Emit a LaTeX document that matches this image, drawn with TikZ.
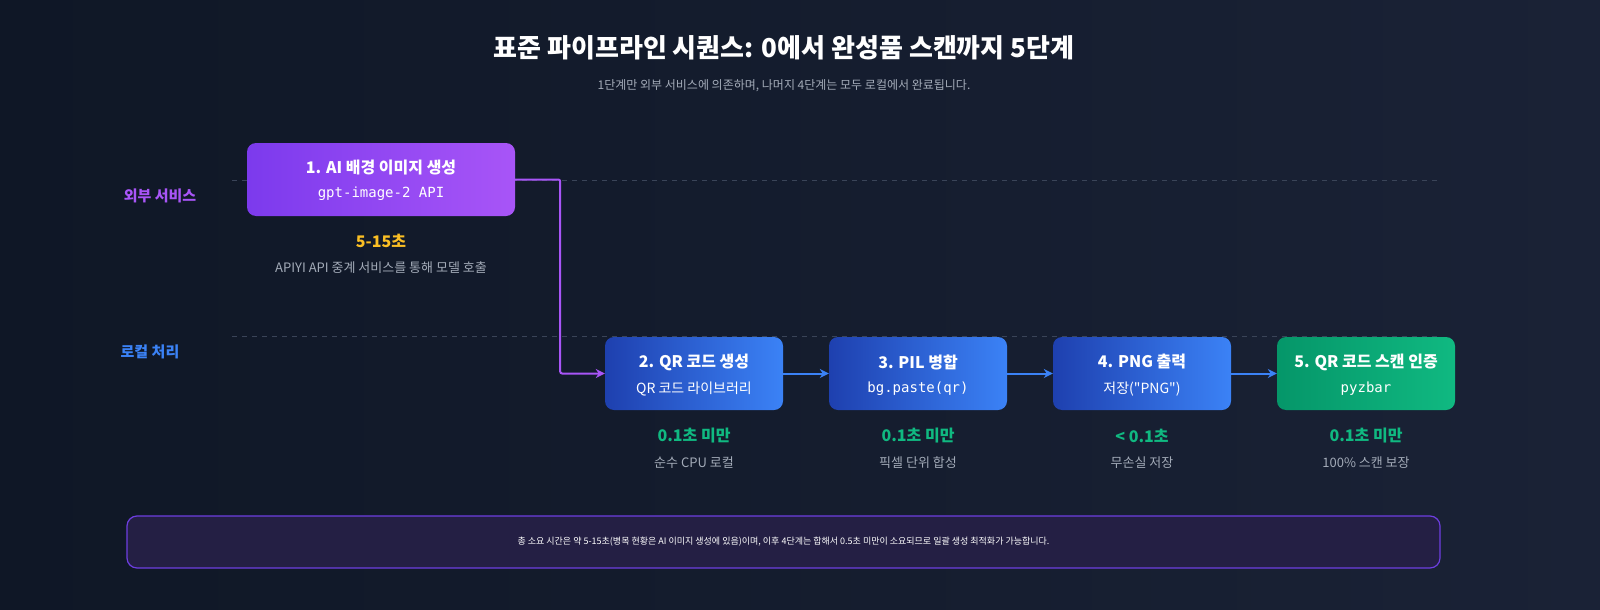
\documentclass[tikz,border=0pt]{standalone}
\usepackage{fontspec}
\setmainfont{Noto Sans CJK KR}
\newfontfamily\kr{Noto Sans CJK KR}
\setmonofont{DejaVu Sans Mono}
\usetikzlibrary{arrows.meta,calc}
\definecolor{bgA}{HTML}{0F1726}
\definecolor{bgB}{HTML}{1A2236}
\definecolor{pA}{HTML}{7C3AED}
\definecolor{pB}{HTML}{A855F7}
\definecolor{bA}{HTML}{1E40AF}
\definecolor{bB}{HTML}{3B82F6}
\definecolor{gA}{HTML}{059669}
\definecolor{gB}{HTML}{10B981}
\definecolor{yel}{HTML}{FBBF24}
\definecolor{txtg}{HTML}{A3ABB8}
\definecolor{dashc}{HTML}{3A4458}
\begin{document}
\begin{tikzpicture}[x=1pt,y=-1pt,
 box/.style={rounded corners=9pt,minimum width=178pt,minimum height=73pt,inner sep=0pt,text=white,align=center},
 ttl/.style={font=\bfseries\fontsize{16}{19}\selectfont},
 tm/.style={font=\bfseries\fontsize{16}{19}\selectfont},
 ds/.style={text=txtg,font=\fontsize{13}{16}\selectfont},
 arr/.style={line width=2pt,-{Stealth[length=9pt,width=9pt]}}]
\useasboundingbox (0,0) rectangle (1600,610);
\shade[left color=bgA,right color=bgB] (0,0) rectangle (1600,610);
\node[text=white,font=\bfseries\fontsize{26}{31}\selectfont] (title) at (784,48) {표준 파이프라인 시퀀스: 0에서 완성품 스캔까지 5단계};
\node[text=txtg,font=\fontsize{12}{14}\selectfont] (sub) at (784,86) {1단계만 외부 서비스에 의존하며, 나머지 4단계는 모두 로컬에서 완료됩니다.};
\draw[dashc,line width=1pt,dash pattern=on 5pt off 5pt] (232,180) coordinate(d1a) -- (1440,180) coordinate(d1b);
\draw[dashc,line width=1pt,dash pattern=on 5pt off 5pt] (232,336) coordinate(d2a) -- (1440,336) coordinate(d2b);
\node[text=pB,font=\bfseries\fontsize{15}{18}\selectfont] (lane1) at (160,196) {외부 서비스};
\node[text=bB,font=\bfseries\fontsize{15}{18}\selectfont] (lane2) at (150,352) {로컬 처리};
\node[box,minimum width=268pt,left color=pA,right color=pB] (b1) at (381,179.5) {};
\node[text=white,ttl] at (381,168) {1. AI 배경 이미지 생성};
\node[text=white,font=\ttfamily\fontsize{14}{17}\selectfont] at (381,194) {gpt-image-2 API};
\node[tm,text=yel] (t1) at (381,241) {5-15초};
\node[ds] (d1) at (381,268) {APIYI API 중계 서비스를 통해 모델 호출};
\foreach \n/\x/\ca/\cb/\t/\c/\tt/\dd in {
 2/694/bA/bB/2. QR 코드 생성/{\kr QR 코드 라이브러리}/0.1초 미만/순수 CPU 로컬,
 3/918/bA/bB/3. PIL 병합/{\ttfamily bg.paste(qr)}/0.1초 미만/픽셀 단위 합성,
 4/1142/bA/bB/4. PNG 출력/{\kr 저장("PNG")}/< 0.1초/무손실 저장,
 5/1366/gA/gB/5. QR 코드 스캔 인증/{\ttfamily pyzbar}/0.1초 미만/100\% 스캔 보장}{
 \node[box,left color=\ca,right color=\cb] (b\n) at (\x,373.5) {};
 \node[text=white,ttl] at (\x,362) {\t};
 \node[text=white,font=\fontsize{14}{17}\selectfont] at (\x,389) {\c};
 \node[tm,text=gB] (t\n) at (\x,436) {\tt};
 \node[ds] (e\n) at (\x,463) {\dd};
}
\draw[arr,pB,rounded corners=2pt] (b1.east) -- ($(b1.east)+(45,0)$) |- (b2.west);
\draw[arr,bB] (b2) -- (b3);
\draw[arr,bB] (b3) -- (b4);
\draw[arr,bB] (b4) -- (b5);
\node[draw={rgb,255:red,109;green,62;blue,224},line width=1.2pt,fill={rgb,255:red,36;green,31;blue,68},rounded corners=10pt,minimum width=1313pt,minimum height=52pt] (note) at (783.5,542) {};
\node[text=white,font=\fontsize{9}{11}\selectfont] at (783.5,542) {총 소요 시간은 약 5-15초(병목 현황은 AI 이미지 생성에 있음)이며, 이후 4단계는 합해서 0.5초 미만이 소요되므로 일괄 생성 최적화가 가능합니다.};
\end{tikzpicture}
\end{document}
